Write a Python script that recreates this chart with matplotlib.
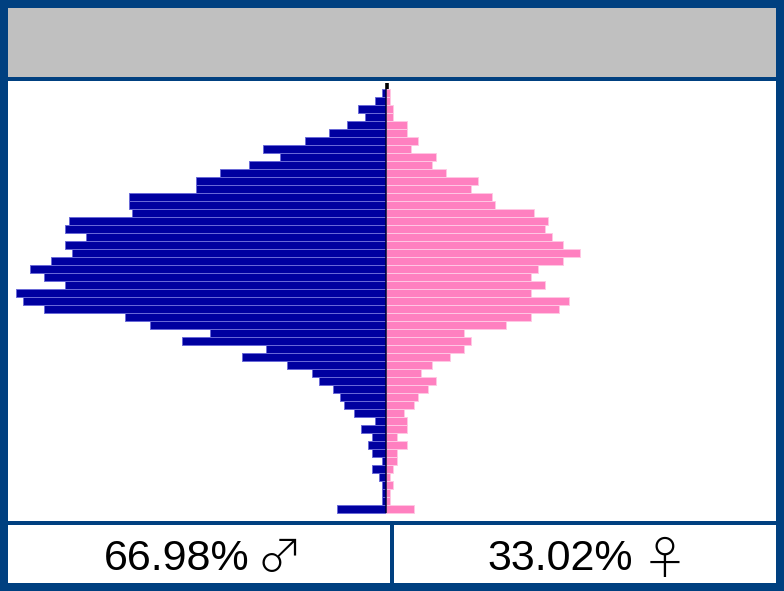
import matplotlib
matplotlib.use("Agg")
import matplotlib.pyplot as plt
import numpy as np
from matplotlib.patches import Rectangle

# Age rows listed from the oldest (top) to the youngest (bottom)
male_top_to_bottom = [4, 10.7, 28.3, 21.3, 39, 56.7, 81, 123.3, 106, 137.3,
                      165.7, 190, 190, 257.3, 257.3, 254, 317.3, 320.7, 300, 320.7,
                      313.7, 335, 356, 342, 320.7, 370, 363, 342, 261, 236,
                      176, 204.3, 119.7, 144.3, 98.7, 74, 67, 53, 46, 42.3,
                      32, 10.7, 24.7, 14, 17.7, 14, 3.7, 14, 7, 3.7,
                      3.7, 3.7, 49.3]
female_top_to_bottom = [4, 4, 7.3, 7.3, 21.3, 21.3, 32.3, 24.7, 49.7, 46.3,
                        60.3, 91.7, 84.7, 106.3, 109.3, 148.3, 162.3, 158.7, 165.7, 176.7,
                        194, 176.7, 152, 144.7, 158.7, 144.7, 183.3, 173, 144.7, 120,
                        78, 84.7, 78, 63.7, 46, 35.3, 49.7, 42.3, 32, 28.3,
                        18, 21.3, 21.3, 10.7, 21.3, 10.7, 10.7, 7.3, 4, 7.3,
                        4, 4, 28.3]
male_pct = "66.98%"
female_pct = "33.02%"
male_sym = "\u2642"
female_sym = "\u2640"

male = np.array(male_top_to_bottom[::-1])
female = np.array(female_top_to_bottom[::-1])
n = len(male)
ages = np.arange(n)

W, H = 784, 591
BORDER = "#004080"
fig = plt.figure(figsize=(W / 100, H / 100), dpi=100, facecolor=BORDER)


def px_rect(x0, y0, x1, y1):
    return [x0 / W, 1 - y1 / H, (x1 - x0) / W, (y1 - y0) / H]


# header (grey)
fig.patches.append(Rectangle((8 / W, 1 - 77 / H), 768 / W, 69 / H,
                             transform=fig.transFigure, facecolor="#C0C0C0",
                             edgecolor="none", zorder=0))

# main pyramid axes
ax = fig.add_axes(px_rect(8, 81, 776, 521))
ax.set_facecolor("white")
ax.set_xlim(-378, 390)
ax.set_ylim(-1.4625, n + 0.5375)
# central axis (thick black behind the bars, thin dark line over them)
ax.plot([0.5, 0.5], [-0.5, n + 0.29], color="black", lw=2.6, zorder=1,
        solid_capstyle="butt")
ax.barh(ages, -male, height=1.0, color="#0000A0", edgecolor="#6a6ad8",
        linewidth=0.7, zorder=2)
ax.barh(ages, female, height=1.0, color="#FF80C0", edgecolor="#FFC8E4",
        linewidth=0.7, zorder=2)
ax.plot([0, 0], [-0.5, n - 0.5], color="#000033", lw=1.1, zorder=3,
        solid_capstyle="butt")
ax.set_xticks([])
ax.set_yticks([])
for s in ax.spines.values():
    s.set_visible(False)

# bottom boxes
for (x0, x1) in [(8, 390), (394, 776)]:
    bx = fig.add_axes(px_rect(x0, 525, x1, 583))
    bx.set_facecolor("white")
    bx.set_xticks([])
    bx.set_yticks([])
    for s in bx.spines.values():
        s.set_visible(False)

baseline = 1 - 569.5 / H
fam = ["Liberation Sans", "DejaVu Sans"]
sym_fam = ["Noto Sans CJK JP", "DejaVu Sans"]
fig.text(249 / W, baseline, male_pct, ha="right", va="baseline", fontsize=31,
         family=fam, color="black")
fig.text(257 / W, 1 - 572 / H, male_sym, ha="left", va="baseline", fontsize=33,
         family=sym_fam, fontweight="light", color="black")
fig.text(633 / W, baseline, female_pct, ha="right", va="baseline", fontsize=31,
         family=fam, color="black")
fig.text(642 / W, 1 - 574 / H, female_sym, ha="left", va="baseline", fontsize=33,
         family=sym_fam, fontweight="light", color="black")

fig.savefig("out.png", dpi=100, facecolor=BORDER)
